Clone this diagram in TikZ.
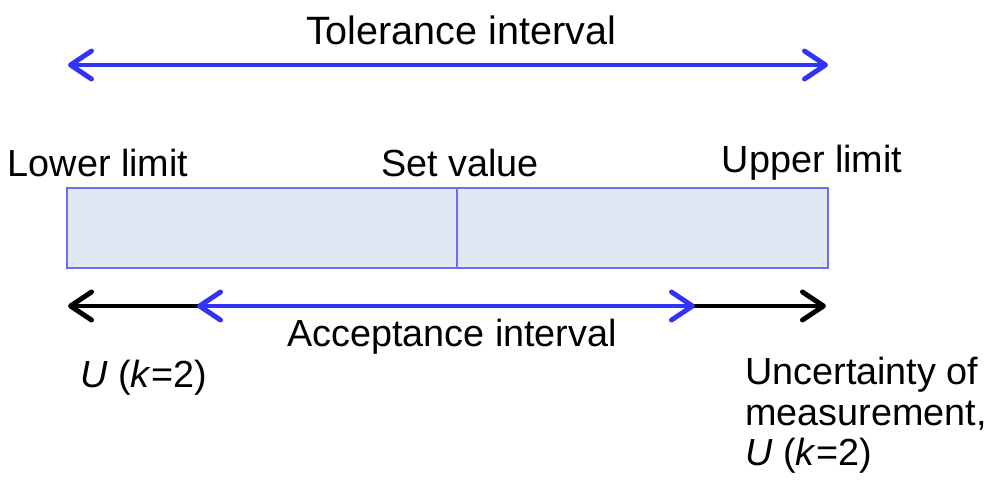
\documentclass[tikz,border=0pt]{standalone}
\usepackage{fontspec}
\setmainfont{Liberation Sans}
\usepackage{xcolor}
\usetikzlibrary{arrows.meta, positioning}

\definecolor{arrowblue}{HTML}{3333F5}
\definecolor{edgeblue}{HTML}{6E6EF5}
\definecolor{bandfill}{HTML}{E1E8F3}

\begin{document}
\begin{tikzpicture}[x=0.02cm, y=-0.02cm,
        >={Straight Barb[length=12pt, width=16pt, line cap=round, line join=round]},
        lbl/.style={font=\fontsize{21.5}{23}\selectfont, inner sep=0pt},
        half/.style={rectangle, draw=edgeblue, line width=0.9pt, fill=bandfill, minimum height=1.6cm, inner sep=0pt, outer sep=0pt},
        span/.style={line width=2.8pt, line cap=round},
        blu/.style={span, draw=arrowblue},
        blk/.style={span, draw=black}
    ]
        \useasboundingbox (0,0) rectangle (1004,484);

        % Nodes
        \node [lbl, font=\fontsize{22.5}{24}\selectfont] (tol) at (461,30) {Tolerance interval};
        \node [half, minimum width=7.8cm, anchor=north west] (lo) at (67,188) {};
        \node [half, minimum width=7.42cm, right=0pt of lo] (hi) {};
        \node [lbl] (lower) at (98,163) {Lower limit};
        \node [lbl] (set) at (460,163) {Set value};
        \node [lbl] (upper) at (812,163) {Upper limit};
        \node [lbl] (acc) at (452,337) {Acceptance interval};
        \node [lbl, anchor=west] (ulow) at (80,378) {\textit{U} (\textit{k}=2)};
        \node [lbl, anchor=north west, align=left] (uhigh) at (745,357) {Uncertainty of\\measurement,\\\textit{U} (\textit{k}=2)};

        \coordinate (tolL) at (68,65);
        \coordinate (tolR) at (828,65);
        \coordinate (accL) at (197,306);
        \coordinate (accR) at (695,306);
        \coordinate (uL) at (68,306);
        \coordinate (uR) at (826,306);

        % Connectors
        \draw[blu, <->] (tolL) -- (tolR);
        \draw[blk, ->] (accL) -- (uL);
        \draw[blk, ->] (accR) -- (uR);
        \draw[blu, <->] (accL) -- (accR);
    \end{tikzpicture}
\end{document}
